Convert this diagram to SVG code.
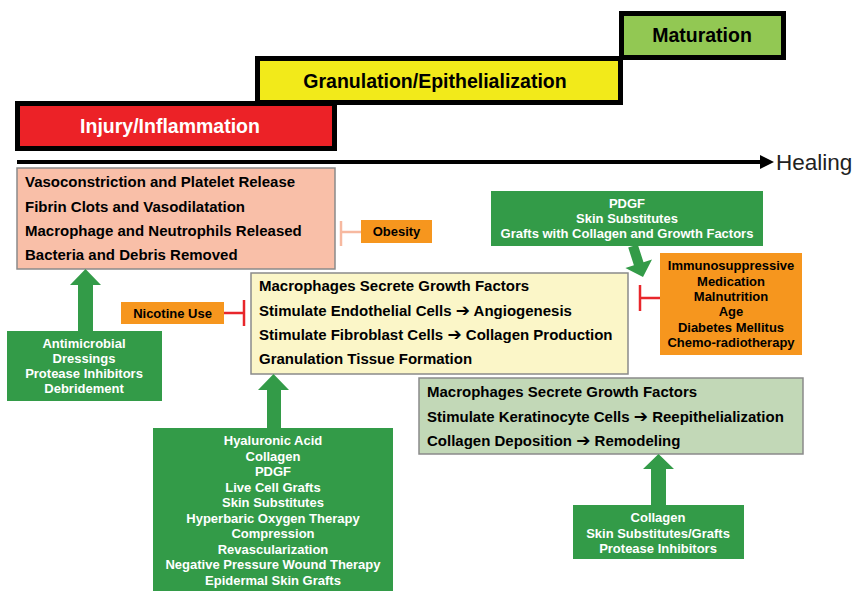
<svg xmlns="http://www.w3.org/2000/svg" width="858" height="591" viewBox="0 0 858 591">
<style>
text{font-family:"Liberation Sans",Arial,sans-serif;font-weight:bold}
.ar{font-family:"DejaVu Sans",sans-serif;font-weight:bold;font-size:17px}
.phase{stroke:#000;stroke-width:5}
.ph{font-size:19.5px;text-anchor:middle}
.lst{font-size:15px;fill:#000}
.box{stroke:#8a8a8a;stroke-width:1.5}
.g{fill:#339B48}
.gt{font-size:13px;fill:#fff;text-anchor:middle}
.o{fill:#F6961E}
.ot{font-size:13px;fill:#000;text-anchor:middle}
</style>
<rect width="858" height="591" fill="#fff"/>

<g id="maturation">
<rect class="phase" x="621.5" y="13.5" width="162" height="44" fill="#92C853"/>
<text class="ph" x="702" y="42" fill="#000">Maturation</text>
</g>
<g id="granulation">
<rect class="phase" x="257.5" y="58.5" width="363" height="44" fill="#F2EA1A"/>
<text class="ph" x="435" y="88" fill="#000">Granulation/Epithelialization</text>
</g>
<g id="injury">
<rect class="phase" x="17.5" y="103.5" width="317" height="45" fill="#EC2227"/>
<text class="ph" x="170" y="133" fill="#fff">Injury/Inflammation</text>
</g>

<g id="timeline">
<line x1="17" y1="162" x2="762" y2="162" stroke="#000" stroke-width="4"/>
<polygon points="760,155 774,162 760,169" fill="#000"/>
<text x="776" y="170" style="font-weight:normal;font-size:22.5px" fill="#222">Healing</text>
</g>

<g id="inflammation-box">
<rect class="box" x="17" y="168" width="318" height="101" fill="#F9BFA8"/>
<text class="lst" x="25" y="187">Vasoconstriction and Platelet Release</text>
<text class="lst" x="25" y="212">Fibrin Clots and Vasodilatation</text>
<text class="lst" x="25" y="236">Macrophage and Neutrophils Released</text>
<text class="lst" x="25" y="260">Bacteria and Debris Removed</text>
</g>

<g id="obesity">
<rect class="o" x="361" y="220" width="71" height="23"/>
<text class="ot" x="396.5" y="236">Obesity</text>
</g>

<g id="antimicrobial">
<rect class="g" x="7" y="331" width="155" height="70"/>
<text class="gt" x="84" y="347.5">Antimicrobial</text>
<text class="gt" x="84" y="363">Dressings</text>
<text class="gt" x="84" y="378">Protease Inhibitors</text>
<text class="gt" x="84" y="393">Debridement</text>
</g>

<g id="nicotine">
<rect class="o" x="121" y="302" width="103" height="22"/>
<text class="ot" x="172.5" y="318">Nicotine Use</text>
</g>

<g id="granulation-box">
<rect class="box" x="251" y="273" width="377" height="101" fill="#FBF6C8"/>
<text class="lst" x="259" y="291">Macrophages Secrete Growth Factors</text>
<text class="lst" x="259" y="316">Stimulate Endothelial Cells <tspan class="ar">➔</tspan> Angiogenesis</text>
<text class="lst" x="259" y="340">Stimulate Fibroblast Cells <tspan class="ar">➔</tspan> Collagen Production</text>
<text class="lst" x="259" y="364">Granulation Tissue Formation</text>
</g>

<g id="pdgf">
<rect class="g" x="491" y="191" width="272" height="55"/>
<text class="gt" x="627" y="208">PDGF</text>
<text class="gt" x="627" y="223">Skin Substitutes</text>
<text class="gt" x="627" y="238">Grafts with Collagen and Growth Factors</text>
</g>

<g id="risk-factors">
<rect class="o" x="660" y="253" width="142" height="102"/>
<text class="ot" x="731" y="270">Immunosuppressive</text>
<text class="ot" x="731" y="285.5">Medication</text>
<text class="ot" x="731" y="301">Malnutrition</text>
<text class="ot" x="731" y="316">Age</text>
<text class="ot" x="731" y="331.5">Diabetes Mellitus</text>
<text class="ot" x="731" y="347">Chemo-radiotherapy</text>
</g>

<g id="maturation-box">
<rect class="box" x="419" y="378" width="384" height="76" fill="#C2D8B7"/>
<text class="lst" x="427" y="397">Macrophages Secrete Growth Factors</text>
<text class="lst" x="427" y="422">Stimulate Keratinocyte Cells <tspan class="ar">➔</tspan> Reepithelialization</text>
<text class="lst" x="427" y="446">Collagen Deposition <tspan class="ar">➔</tspan> Remodeling</text>
</g>

<g id="granulation-therapies">
<rect class="g" x="153" y="428" width="240" height="163"/>
<text class="gt" x="273" y="445">Hyaluronic Acid</text>
<text class="gt" x="273" y="460.5">Collagen</text>
<text class="gt" x="273" y="476">PDGF</text>
<text class="gt" x="273" y="491.5">Live Cell Grafts</text>
<text class="gt" x="273" y="507">Skin Substitutes</text>
<text class="gt" x="273" y="522.5">Hyperbaric Oxygen Therapy</text>
<text class="gt" x="273" y="538">Compression</text>
<text class="gt" x="273" y="553.5">Revascularization</text>
<text class="gt" x="273" y="569">Negative Pressure Wound Therapy</text>
<text class="gt" x="273" y="584.5">Epidermal Skin Grafts</text>
</g>

<g id="maturation-therapies">
<rect class="g" x="573" y="505" width="171" height="54"/>
<text class="gt" x="658" y="522">Collagen</text>
<text class="gt" x="658" y="537.5">Skin Substitutes/Grafts</text>
<text class="gt" x="658" y="553">Protease Inhibitors</text>
</g>

<g id="connectors">
<polygon class="g" points="78,332 78,285 70,285 85.5,269 101,285 93,285 93,332"/>
<polygon class="g" points="267,429 267,390 258,390 273.5,374 289,390 281,390 281,429"/>
<polygon class="g" points="651,506 651,469 643,469 658.5,454 674,469 666,469 666,506"/>
<polygon class="g" points="637.8,244.5 643.5,262.2 652,259.4 643,277 625.4,268 633.9,265.2 628.2,247.5"/>
<line x1="341" y1="232" x2="361" y2="232" stroke="#F7B9A0" stroke-width="2.5"/>
<line x1="341" y1="221" x2="341" y2="246" stroke="#F7B9A0" stroke-width="2.5"/>
<line x1="224" y1="313" x2="244" y2="313" stroke="#E8262B" stroke-width="2.5"/>
<line x1="244" y1="300" x2="244" y2="326" stroke="#E8262B" stroke-width="2.5"/>
<line x1="640" y1="298" x2="660" y2="298" stroke="#E8262B" stroke-width="2.5"/>
<line x1="640" y1="285" x2="640" y2="311" stroke="#E8262B" stroke-width="2.5"/>
</g>
</svg>
